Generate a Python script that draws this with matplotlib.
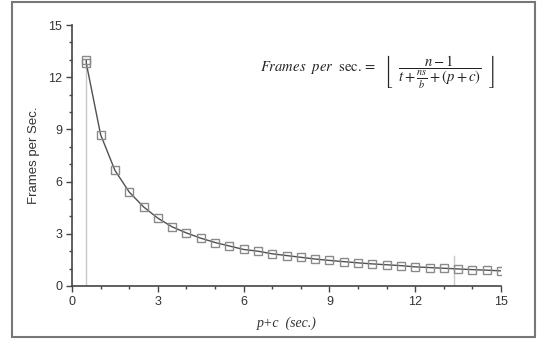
import matplotlib
matplotlib.use("Agg")
from matplotlib import pyplot as plt
from matplotlib.patches import Rectangle
from matplotlib.ticker import MultipleLocator

# values
pc_secs = [0.5, 0.5, 1.0, 1.5, 2.0, 2.5, 3.0, 3.5, 4.0, 4.5, 5.0, 5.5, 6.0,
           6.5, 7.0, 7.5, 8.0, 8.5, 9.0, 9.5, 10.0, 10.5, 11.0, 11.5, 12.0,
           12.5, 13.0, 13.5, 14.0, 14.5, 15.0]
frames_per_sec = [13.0, 12.8, 8.7, 6.65, 5.4, 4.55, 3.9, 3.4, 3.05, 2.75,
                  2.5, 2.3, 2.1, 2.0, 1.85, 1.75, 1.65, 1.55, 1.47, 1.4,
                  1.33, 1.27, 1.22, 1.17, 1.1, 1.06, 1.02, 0.98, 0.94,
                  0.91, 0.87]
marker_lines_x = [0.5, 13.35]
marker_lines_top = [12.6, 1.7]

plt.rcParams['mathtext.fontset'] = 'stix'

fig = plt.figure(figsize=(5.41, 3.40), dpi=100)

# outer frame around the whole chart
fig.patches.append(Rectangle((12 / 541, 3 / 340), 523 / 541, 335 / 340,
                             transform=fig.transFigure, fill=False,
                             edgecolor='#777777', linewidth=1.5))

ax = fig.add_axes([72 / 541, 1 - 286 / 340, 429 / 541, 261 / 340])

for xv, top in zip(marker_lines_x, marker_lines_top):
    ax.plot([xv, xv], [0, top], color='#c8c8c8', linewidth=1.0, zorder=1)

ax.plot(pc_secs, frames_per_sec, color='#505050', linewidth=1.0,
        marker='s', markersize=5.5, markerfacecolor='none',
        markeredgecolor='#8a8a8a', markeredgewidth=1.0, zorder=2)

ax.set_xlim(0, 15)
ax.set_ylim(0, 15)
ax.xaxis.set_major_locator(MultipleLocator(3))
ax.xaxis.set_minor_locator(MultipleLocator(1))
ax.yaxis.set_major_locator(MultipleLocator(3))
ax.yaxis.set_minor_locator(MultipleLocator(1))

for side in ['top', 'right']:
    ax.spines[side].set_visible(False)
for side in ['left', 'bottom']:
    ax.spines[side].set_color('#444444')
    ax.spines[side].set_linewidth(1.2)

ax.tick_params(which='major', length=4, width=1, color='#444444',
               labelsize=9, labelcolor='#333333', pad=3)
ax.tick_params(which='minor', length=2.5, width=1, color='#444444')
for lab in ax.get_xticklabels() + ax.get_yticklabels():
    lab.set_family('Liberation Sans')

ax.set_ylabel("Frames per Sec.", family='Liberation Sans', fontsize=9.5,
              color='#333333', labelpad=6)
ax.set_xlabel("p+c  (sec.)", family='Liberation Serif', style='italic',
              fontsize=10, color='#333333', labelpad=6)

formula = (r"$\mathit{Frames\ \ per}\ \ \mathrm{sec.}=\ \ "
           r"\left\lfloor\ \ \dfrac{n-1}{t+\frac{ns}{b}+(p+c)}\ \ \right\rfloor$")
ax.text(0.985, 0.82, formula, transform=ax.transAxes, ha='right',
        va='center', fontsize=10.5, color='#222222')

plt.savefig("out.png", dpi=100)
plt.close()
